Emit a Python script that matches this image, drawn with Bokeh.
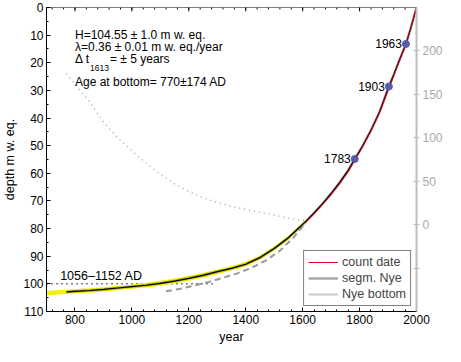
from bokeh.plotting import figure
from bokeh.models import Range1d, LinearAxis, FixedTicker, Legend, LegendItem
from bokeh.core.properties import value
from bokeh.embed import file_html
from bokeh.resources import INLINE

FONT = "Liberation Sans"

# ---- data ----
X_MIN, X_MAX = 700, 2000
Y_TOP, Y_BOTTOM = 0, 110

# segmented Nye fit (main curve)
nye_year = [770, 800, 850, 900, 950, 1000, 1050, 1100, 1150, 1200, 1250, 1300, 1350, 1400, 1450, 1500, 1550,
            1613, 1640, 1670, 1700, 1730, 1760, 1783, 1810, 1840, 1870, 1903, 1920, 1940, 1963, 1980, 2000]
nye_depth = [102.9, 102.7, 102.4, 102.0, 101.5, 101.0, 100.5, 99.8, 99.0, 98.0, 96.9, 95.6, 94.4, 92.9, 90.5, 87.2, 83.3,
             77.2, 74.3, 71.0, 67.3, 63.3, 58.9, 54.8, 50.2, 44.4, 37.8, 28.6, 24.3, 19.0, 13.2, 7.4, 0.0]

# count date (annual layer counting)
count_year = [1613, 1640, 1670, 1700, 1730, 1760, 1783, 1810, 1840, 1870, 1903, 1920, 1940, 1963, 1980, 2000]
count_depth = [77.6, 74.8, 71.3, 67.8, 63.9, 59.5, 55.4, 50.6, 44.8, 38.2, 29.3, 24.8, 19.4, 13.6, 7.6, 0.0]

# Nye bottom
bot_year = [770, 850, 950, 1050, 1150, 1250, 1350, 1450, 1550, 1613]
bot_depth = [103.1, 102.6, 101.7, 100.7, 99.2, 97.1, 94.6, 90.7, 83.5, 77.4]

# uncertainty band of the bottom fit
band_year = [700, 750, 800, 850, 900, 950, 1000, 1050, 1100, 1150, 1200, 1250, 1300, 1350, 1400, 1450, 1500, 1550, 1613]
band_upper = [102.5, 102.2, 101.9, 101.6, 101.2, 100.8, 100.2, 99.6, 98.9, 98.1, 97.1, 96.0, 94.8, 93.5, 92.0, 89.7, 86.4, 82.5, 76.6]
band_lower = [104.1, 103.8, 103.5, 103.2, 102.8, 102.3, 101.8, 101.3, 100.7, 99.9, 98.9, 97.8, 96.5, 95.2, 93.7, 91.3, 88.0, 84.0, 78.0]

# dashed gray alternative fit
dash_year = [1120, 1170, 1220, 1270, 1320, 1370, 1420, 1470, 1520, 1570, 1613]
dash_depth = [102.7, 101.8, 100.6, 99.3, 97.8, 96.2, 94.2, 91.6, 88.0, 83.0, 77.6]

# horizontal marker at 100 m
mark_year = [700, 1290]
mark_depth = [100, 100]

# reference horizons
ref_year = [1963, 1903, 1783]
ref_depth = [13.2, 28.6, 54.8]
ref_label = ["1963", "1903", "1783"]

# age uncertainty (right axis, years)
unc_year = [770, 850, 900, 950, 1000, 1050, 1100, 1150, 1200, 1250, 1300, 1350, 1400, 1450, 1500, 1550, 1613]
unc_years = [174, 142, 118, 100, 85, 71, 58, 47, 38, 31, 25.5, 21, 17.5, 14, 11, 7.5, 4]

x_ticks = [800, 1000, 1200, 1400, 1600, 1800, 2000]
x_minor = list(range(720, 2001, 40))
y_ticks = [0, 10, 20, 30, 40, 50, 60, 70, 80, 90, 100, 110]
y_minor = list(range(0, 111, 5))
r_ticks = [0, 50, 100, 150, 200]
r_minor = [-50]

# ---- figure ----
p = figure(width=445, height=346, x_range=Range1d(X_MIN, X_MAX), y_range=Range1d(Y_BOTTOM, Y_TOP),
           output_backend="svg", toolbar_location=None,
           min_border_left=38, min_border_right=27, min_border_top=7, min_border_bottom=31)
p.extra_y_ranges = {"unc": Range1d(-100, 250)}
p.grid.visible = False
p.outline_line_color = None
p.background_fill_color = "white"
p.border_fill_color = "white"

def style_axis(ax, color="black"):
    ax.axis_line_color = color
    ax.major_tick_line_color = color
    ax.minor_tick_line_color = color
    ax.major_tick_in = 4
    ax.major_tick_out = 0
    ax.minor_tick_in = 2
    ax.minor_tick_out = 0
    ax.major_label_text_font = FONT
    ax.major_label_text_font_size = "12px"
    ax.major_label_text_color = "black"
    ax.axis_label_text_font = FONT
    ax.axis_label_text_font_size = "12.5px"
    ax.axis_label_text_font_style = "normal"
    ax.axis_label_text_color = "black"
    ax.major_label_standoff = 3
    ax.axis_label_standoff = 3

xa = p.xaxis[0]
xa.ticker = FixedTicker(ticks=x_ticks, minor_ticks=x_minor)
xa.axis_label = "year"
style_axis(xa)

ya = p.yaxis[0]
ya.ticker = FixedTicker(ticks=y_ticks, minor_ticks=y_minor)
ya.axis_label = "depth m w. eq."
style_axis(ya)

right = LinearAxis(y_range_name="unc", ticker=FixedTicker(ticks=r_ticks, minor_ticks=r_minor))
style_axis(right, "#bdbdbd")
right.axis_line_width = 2
right.major_tick_in = 3
right.major_tick_out = 3
right.minor_tick_in = 3
right.minor_tick_out = 3
right.major_label_text_color = "#a8a8a8"
p.add_layout(right, "right")

# top frame line with inward ticks
p.segment(x0=[X_MIN], y0=[Y_TOP], x1=[X_MAX], y1=[Y_TOP], line_color="black", line_width=1)
p.segment(x0=x_ticks, y0=[Y_TOP] * len(x_ticks), x1=x_ticks, y1=[1.4] * len(x_ticks), line_color="black", line_width=1)
p.segment(x0=x_minor, y0=[Y_TOP] * len(x_minor), x1=x_minor, y1=[0.7] * len(x_minor), line_color="black", line_width=1)

# age uncertainty dotted (right axis)
p.line(unc_year, unc_years, y_range_name="unc", line_color="#a8a8a8", line_width=1.5, line_dash="1 4")

# marker line at 100 m
p.line(mark_year, mark_depth, line_color="black", line_width=1.5, line_dash="1 4")

# Nye bottom
r_bot = p.line(bot_year, bot_depth, line_color="#c8c8c8", line_width=2)

# uncertainty band
p.varea(x=band_year, y1=band_upper, y2=band_lower, fill_color="#f2f200")

# dashed
p.line(dash_year, dash_depth, line_color="#9a9a9a", line_width=2, line_dash="6 4")

# segm Nye
r_seg = p.line(nye_year, nye_depth, line_color="#6f6f6f", line_width=2.5, line_alpha=0.6)
p.line(nye_year, nye_depth, line_color="black", line_width=1.2)

# count date
r_cnt = p.line(count_year, count_depth, line_color="#e8001c", line_width=1)

# reference horizons
p.scatter(ref_year, ref_depth, size=7, fill_color="#5a5aa8", line_color="#5a5aa8")
p.text(x=ref_year, y=ref_depth, text=ref_label, x_offset=-4, text_align="right",
       text_baseline="middle", text_font=value(FONT), text_font_size=value("12px"), text_color="black")

# annotation block
p.text(x=[800, 800, 800, 800], y=[10.0, 10.0, 10.0, 10.0],
       text=["H=104.55 \u00b1 1.0 m w. eq.", "\u03bb=0.36 \u00b1 0.01 m w. eq./year",
             "\u0394 t", "Age at bottom= 770\u00b1174 AD"],
       y_offset=[0, 11.5, 23.5, 47], text_align="left", text_baseline="middle",
       text_font=value(FONT), text_font_size=value("12px"), text_color="black")
p.text(x=[800], y=[10.0], text=["1613"], x_offset=15, y_offset=32.5, text_align="left",
       text_baseline="middle", text_font=value(FONT), text_font_size=value("8.5px"), text_color="black")
p.text(x=[800], y=[10.0], text=["= \u00b1 5 years"], x_offset=35, y_offset=23.5, text_align="left",
       text_baseline="middle", text_font=value(FONT), text_font_size=value("12px"), text_color="black")

p.text(x=[748], y=[100], text=["1056\u20131152 AD"], y_offset=-8, text_align="left",
       text_baseline="middle", text_font=value(FONT), text_font_size=value("12.5px"), text_color="black")

legend = Legend(items=[LegendItem(label="count date", renderers=[r_cnt]),
                       LegendItem(label="segm. Nye", renderers=[r_seg]),
                       LegendItem(label="Nye bottom", renderers=[r_bot])],
                location="bottom_right")
legend.border_line_color = "black"
legend.border_line_width = 1
legend.background_fill_alpha = 1
legend.label_text_font = FONT
legend.label_text_font_size = "12.5px"
legend.glyph_width = 30
legend.glyph_height = 12
legend.label_height = 12
legend.label_standoff = 4
legend.spacing = 2
legend.padding = 4
legend.margin = 5
p.add_layout(legend)

open("out.html", "w").write(file_html(p, INLINE))
